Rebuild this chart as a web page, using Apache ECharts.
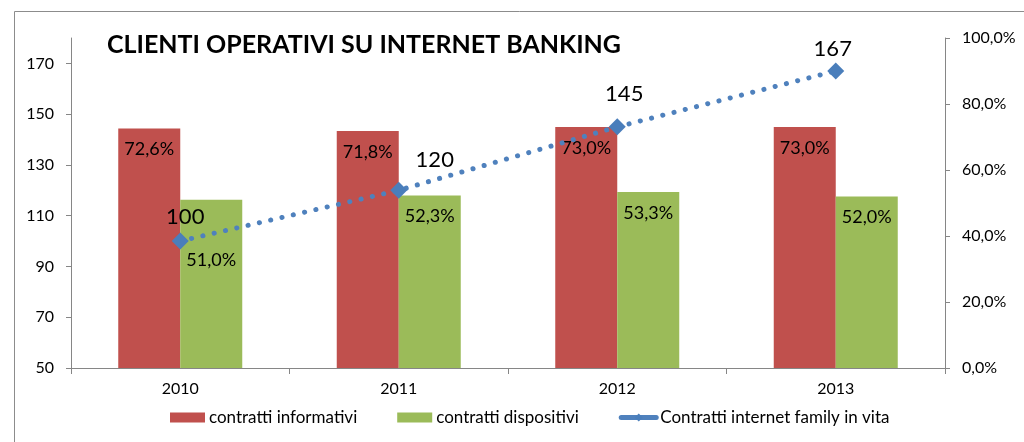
<!DOCTYPE html>
<html>
<head>
<meta charset="utf-8">
<title>Clienti operativi su internet banking</title>
<script src="https://cdn.jsdelivr.net/npm/echarts@6/dist/echarts.min.js"></script>
<style>
  html, body { margin: 0; padding: 0; background: #fff; }
  #chart { width: 1024px; height: 442px; }
</style>
</head>
<body>
<div id="chart"></div>
<script>
// dati
const anni = ['2010', '2011', '2012', '2013']
const informativi = [72.6, 71.8, 73.0, 73.0] // % asse destro
const dispositivi = [51.0, 52.3, 53.3, 52.0] // % asse destro
const contrattiFamily = [100, 120, 145, 167] // asse sinistro
const tickSinistra = [50, 70, 90, 110, 130, 150, 170]
const tickDestra = [0, 20, 40, 60, 80, 100]

// spostamenti etichette (come sistemate a mano nell'originale)
const offsetFamily = [[5, 0], [36, -6], [7, -8], [-3, 2]]
const offsetDispositivi = [[0, 0], [0, 0], [0, 0], [0, 0]]
offsetDispositivi[0] = [0, 39]

const font = 'Lato, "Open Sans", sans-serif'
const perc = (v) => v.toFixed(1).replace('.', ',') + '%'

const chart = echarts.init(document.getElementById('chart'))

chart.setOption({
  animation: false,
  textStyle: { fontFamily: font, color: '#000' },
  graphic: [
    {
      type: 'rect',
      left: 12,
      top: 9,
      shape: { width: 1030, height: 450 },
      style: { fill: 'none', stroke: '#8c8c8c', lineWidth: 1 },
      z: -1
    },
    {
      type: 'text',
      left: 107,
      top: 32,
      style: {
        text: 'CLIENTI OPERATIVI SU INTERNET BANKING',
        font: 'bold 25px ' + font,
        fill: '#000'
      }
    }
  ],
  grid: { left: 71, right: 79, top: 38, bottom: 74 },
  legend: {
    bottom: 11,
    left: 165,
    itemWidth: 35,
    itemHeight: 10,
    itemGap: 40,
    textStyle: { fontSize: 17, fontFamily: font, color: '#000', padding: [0, 0, 0, -1] },
    data: [
      { name: 'contratti informativi', icon: 'rect' },
      { name: 'contratti dispositivi', icon: 'rect' },
      { name: 'Contratti internet family in vita', lineStyle: { type: 'solid', width: 5 } }
    ]
  },
  xAxis: {
    type: 'category',
    data: anni,
    axisLine: { lineStyle: { color: '#868686' } },
    axisTick: { show: true, length: 6, lineStyle: { color: '#868686' } },
    axisLabel: { fontSize: 16, color: '#000', margin: 13 }
  },
  yAxis: [
    {
      type: 'value',
      min: 50,
      max: 180,
      interval: 10,
      position: 'left',
      splitLine: { show: false },
      axisLine: { show: true, lineStyle: { color: '#868686' } },
      axisTick: { show: true, length: 5, customValues: tickSinistra, lineStyle: { color: '#868686' } },
      axisLabel: { fontSize: 16, color: '#000', margin: 17, customValues: tickSinistra }
    },
    {
      type: 'value',
      min: 0,
      max: 100,
      interval: 20,
      position: 'right',
      splitLine: { show: false },
      axisLine: { show: true, lineStyle: { color: '#868686' } },
      axisTick: { show: true, length: 5, customValues: tickDestra, lineStyle: { color: '#868686' } },
      axisLabel: { fontSize: 16, color: '#000', margin: 17, formatter: (v) => perc(v) }
    }
  ],
  series: [
    {
      name: 'contratti informativi',
      type: 'bar',
      yAxisIndex: 1,
      barWidth: 62,
      barGap: '0%',
      itemStyle: { color: '#C0504D' },
      label: {
        show: true,
        position: 'insideTop',
        distance: 12,
        fontSize: 18,
        color: '#000',
        formatter: (p) => perc(p.value)
      },
      data: informativi
    },
    {
      name: 'contratti dispositivi',
      type: 'bar',
      yAxisIndex: 1,
      barWidth: 62,
      barGap: '0%',
      itemStyle: { color: '#9BBB59' },
      label: {
        show: true,
        position: 'insideTop',
        distance: 12,
        fontSize: 18,
        color: '#000',
        formatter: (p) => perc(p.value)
      },
      data: dispositivi.map((v, i) => ({ value: v, label: { offset: offsetDispositivi[i] } }))
    },
    {
      name: 'Contratti internet family in vita',
      type: 'line',
      yAxisIndex: 0,
      z: 5,
      symbol: 'diamond',
      symbolSize: 17,
      itemStyle: { color: '#4A7EBB' },
      lineStyle: { color: '#4F81BD', width: 5, type: [0.1, 11.5], cap: 'round' },
      label: {
        show: true,
        position: 'top',
        distance: 5,
        fontSize: 22,
        color: '#000'
      },
      data: contrattiFamily.map((v, i) => ({ value: v, label: { offset: offsetFamily[i] } }))
    }
  ]
})
</script>
</body>
</html>
